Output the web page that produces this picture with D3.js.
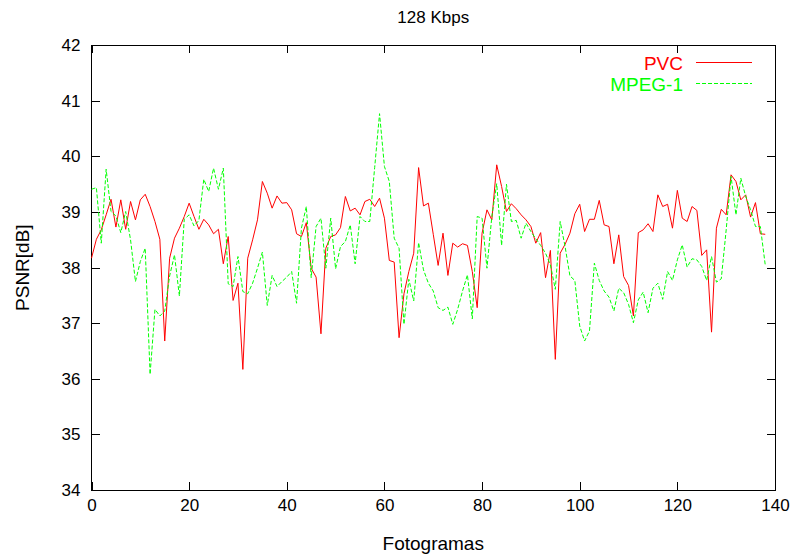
<!DOCTYPE html>
<html>
  <head>
    <title>128 Kbps: PVC vs MPEG-1</title>
    <meta http-equiv="Content-Type" content="text/html; charset=utf-8">
    <style type="text/css">
      body { margin: 0; background: #fff; }
      svg text { font-family: "Liberation Sans", Arial, Helvetica, sans-serif; fill: #000; }
      path.line { stroke-width: 1; fill: none; }
      .axis path { display: none; }
      .axis line { stroke: #000; stroke-width: 1; shape-rendering: crispEdges; }
      .axis text { font-size: 17px; }
    </style>
  </head>
  <body>
    <div id="main"></div>
    <script src="https://d3js.org/d3.v7.min.js"></script>
    <script>
    // PSNR per frame (dB)
    var pvc = [
      38.17, 38.51, 38.68, 38.95, 39.23, 38.73, 39.22, 38.69, 39.19, 38.86,
      39.22, 39.32, 39.10, 38.83, 38.51, 36.68, 38.17, 38.53, 38.71, 38.92,
      39.16, 38.92, 38.69, 38.87, 38.77, 38.61, 38.69, 38.07, 38.56, 37.41,
      37.72, 36.17, 38.17, 38.50, 38.86, 39.55, 39.34, 39.07, 39.29, 39.16,
      39.17, 39.04, 38.61, 38.56, 38.81, 37.99, 37.83, 36.81, 38.35, 38.56,
      38.59, 38.72, 39.28, 39.02, 39.07, 38.95, 39.19, 39.23, 39.10, 39.25,
      38.89, 38.13, 38.10, 36.74, 37.53, 37.93, 38.26, 39.80, 39.11, 39.16,
      38.60, 38.04, 38.62, 37.86, 38.44, 38.37, 38.43, 38.40, 37.93, 37.28,
      38.62, 39.04, 38.86, 39.85, 39.46, 39.01, 39.15, 39.06, 38.95, 38.86,
      38.74, 38.44, 38.63, 37.82, 38.31, 36.35, 38.26, 38.42, 38.62, 38.97,
      39.14, 38.65, 38.87, 38.87, 39.21, 38.77, 38.74, 38.07, 38.59, 37.84,
      37.68, 37.13, 38.63, 38.68, 38.79, 38.65, 39.31, 39.10, 39.14, 38.71,
      39.39, 38.89, 38.83, 39.10, 39.03, 38.22, 38.32, 36.84, 38.71, 39.05,
      38.95, 39.67, 39.55, 39.22, 39.31, 38.91, 39.17, 38.61, 38.60
    ];
    var mpeg1 = [
      39.41, 39.44, 38.44, 39.77, 39.01, 38.93, 38.63, 39.01, 38.50, 37.75,
      38.11, 38.35, 36.08, 37.25, 37.13, 37.22, 37.85, 38.23, 37.49, 38.87,
      38.95, 38.75, 38.85, 39.59, 39.37, 39.79, 39.41, 39.79, 37.71, 37.66,
      38.20, 37.57, 37.53, 37.72, 37.99, 38.28, 37.32, 37.86, 37.66, 37.75,
      37.83, 37.93, 37.36, 38.71, 39.10, 37.82, 38.74, 38.89, 37.99, 38.89,
      37.98, 38.38, 38.47, 38.77, 38.07, 38.92, 38.83, 38.83, 39.80, 40.77,
      39.82, 39.55, 38.53, 38.35, 36.98, 37.79, 37.40, 38.45, 37.96, 37.72,
      37.58, 37.28, 37.23, 37.29, 36.98, 37.25, 37.58, 37.87, 37.08, 38.92,
      38.89, 37.99, 38.92, 39.51, 38.40, 39.50, 38.83, 38.85, 38.53, 38.80,
      38.65, 38.52, 38.40, 38.26, 38.05, 37.61, 38.83, 38.38, 37.85, 37.77,
      36.95, 36.68, 36.86, 38.08, 37.77, 37.58, 37.47, 37.22, 37.63, 37.55,
      37.34, 37.01, 37.42, 37.56, 37.19, 37.63, 37.72, 37.43, 37.93, 37.77,
      38.14, 38.41, 38.01, 38.16, 38.14, 38.02, 37.77, 38.20, 37.74, 37.80,
      38.68, 39.64, 38.95, 39.61, 39.28, 39.04, 38.74, 38.74, 38.05
    ];
    var xTicks = [0, 20, 40, 60, 80, 100, 120, 140];
    var yTicks = [34, 35, 36, 37, 38, 39, 40, 41, 42];
    var seriesNames = ["PVC", "MPEG-1"];

    document.addEventListener("DOMContentLoaded", init);
    function init() {
      var width = 795, height = 556,
          left = 91.5, right = 775, top = 45.3, bottom = 490;

      var svg = d3.select("#main")
        .append("svg")
          .attr("width", width)
          .attr("height", height);

      // Scales
      var x = d3.scaleLinear().domain([0, 140]).range([left, right]);
      var y = d3.scaleLinear().domain([34, 42]).range([bottom, top]);

      // Axes, ticks pointing inward on all four sides (gnuplot mirror style)
      svg.append("g")
          .attr("class", "axis")
          .attr("transform", "translate(0," + bottom + ")")
          .call(d3.axisBottom(x).tickValues(xTicks).tickSize(-8).tickPadding(9));
      svg.append("g")
          .attr("class", "axis")
          .attr("transform", "translate(0," + top + ")")
          .call(d3.axisTop(x).tickValues(xTicks).tickSize(-8).tickFormat(""));
      svg.append("g")
          .attr("class", "axis")
          .attr("transform", "translate(" + left + ",0)")
          .call(d3.axisLeft(y).tickValues(yTicks).tickSize(-8).tickPadding(11));
      svg.append("g")
          .attr("class", "axis")
          .attr("transform", "translate(" + right + ",0)")
          .call(d3.axisRight(y).tickValues(yTicks).tickSize(-8).tickFormat(""));

      // Border box
      svg.append("rect")
          .attr("x", left)
          .attr("y", top)
          .attr("width", right - left)
          .attr("height", bottom - top)
          .attr("fill", "none")
          .attr("stroke", "#000")
          .attr("stroke-width", 1)
          .attr("shape-rendering", "crispEdges");

      var valueline = d3.line()
          .x(function(d, i) { return x(i); })
          .y(function(d) { return y(d); });

      svg.append("path")
          .attr("class", "line")
          .attr("stroke", "#ff0000")
          .attr("d", valueline(pvc));

      svg.append("path")
          .attr("class", "line")
          .attr("stroke", "#00ff00")
          .attr("stroke-dasharray", "4,2")
          .attr("d", valueline(mpeg1));

      // Title and axis labels
      svg.append("text")
          .attr("x", (left + right) / 2)
          .attr("y", 23)
          .attr("text-anchor", "middle")
          .style("font-size", "17px")
          .text("128 Kbps");

      svg.append("text")
          .attr("x", (left + right) / 2)
          .attr("y", 550)
          .attr("text-anchor", "middle")
          .style("font-size", "19px")
          .text("Fotogramas");

      svg.append("text")
          .attr("transform", "translate(29," + ((top + bottom) / 2) + ") rotate(-90)")
          .attr("text-anchor", "middle")
          .style("font-size", "19px")
          .text("PSNR[dB]");

      // Legend
      var legendColors = ["#ff0000", "#00ff00"],
          legendDash = [null, "4,2"];
      seriesNames.forEach(function(name, i) {
        var ly = 62.5 + i * 21;
        svg.append("text")
            .attr("x", 683)
            .attr("y", ly + 7)
            .attr("text-anchor", "end")
            .style("font-size", "19px")
            .style("fill", legendColors[i])
            .text(name);
        svg.append("line")
            .attr("x1", 696)
            .attr("x2", 752)
            .attr("y1", ly)
            .attr("y2", ly)
            .attr("stroke", legendColors[i])
            .attr("stroke-width", 1)
            .attr("stroke-dasharray", legendDash[i]);
      });
    }
    </script>
  </body>
</html>
